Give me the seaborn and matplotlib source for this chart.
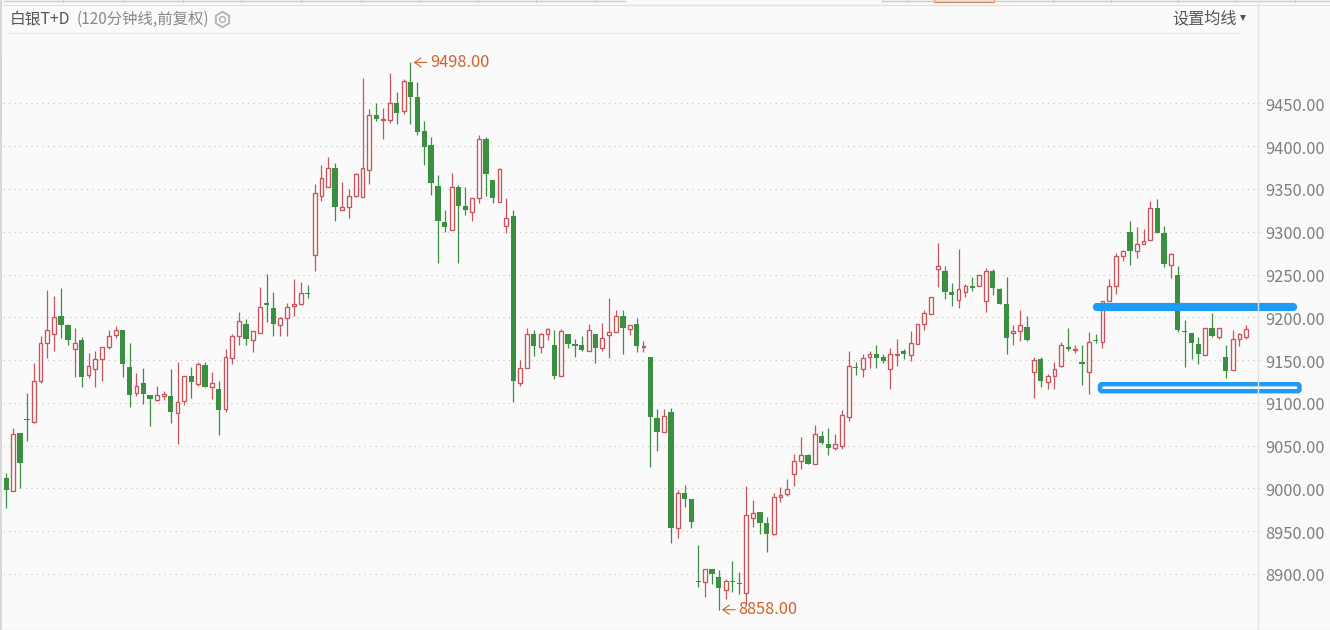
import numpy as np
import pandas as pd
import matplotlib
matplotlib.use('Agg')
import matplotlib.pyplot as plt
import seaborn as sns
from matplotlib.patches import FancyBboxPatch, Rectangle
from matplotlib.transforms import ScaledTranslation

# candle values, one list per field
highs = [9018, 9071, 9065, 9111, 9146, 9178, 9232, 9225, 9234, 9192, 9187, 9177, 9158, 9161, 9165, 9185, 9190, 9185, 9170, 9135,
         9141, 9109, 9120, 9114, 9140, 9148, 9131, 9142, 9148, 9148, 9136, 9126, 9163, 9180, 9206, 9198, 9184, 9235, 9251, 9229,
         9200, 9217, 9245, 9241, 9238, 9356, 9378, 9387, 9380, 9358, 9350, 9369, 9480, 9443, 9450, 9445, 9486, 9463, 9479, 9498,
         9475, 9429, 9411, 9366, 9325, 9369, 9355, 9352, 9340, 9413, 9411, 9360, 9375, 9339, 9325, 9150, 9188, 9185, 9182, 9187,
         9185, 9186, 9181, 9174, 9178, 9192, 9181, 9193, 9222, 9209, 9208, 9191, 9199, 9172, 9153, 9093, 9093, 9094, 8998, 9004,
         8988, 8934, 8906, 8906, 8905, 8894, 8915, 8902, 9003, 8986, 8972, 8967, 8995, 9002, 9011, 9040, 9060, 9040, 9074, 9067,
         9070, 9063, 9092, 9160, 9148, 9157, 9161, 9168, 9157, 9164, 9175, 9163, 9184, 9192, 9208, 9224, 9287, 9260, 9240, 9280,
         9239, 9247, 9250, 9258, 9256, 9234, 9247, 9191, 9208, 9201, 9153, 9154, 9134, 9148, 9171, 9188, 9167, 9167, 9183, 9181,
         9219, 9245, 9275, 9279, 9313, 9305, 9303, 9336, 9338, 9307, 9275, 9260, 9197, 9182, 9177, 9188, 9205, 9188, 9167, 9185,
         9182, 9191]
lows = [8977, 8997, 9000, 9055, 9076, 9123, 9152, 9161, 9176, 9167, 9130, 9118, 9129, 9118, 9125, 9163, 9176, 9130, 9095, 9108,
        9099, 9073, 9102, 9103, 9076, 9052, 9097, 9106, 9120, 9118, 9104, 9062, 9089, 9145, 9167, 9167, 9159, 9182, 9195, 9178,
        9178, 9178, 9201, 9214, 9223, 9254, 9336, 9352, 9312, 9326, 9316, 9341, 9341, 9356, 9430, 9408, 9427, 9426, 9438, 9426,
        9413, 9378, 9343, 9264, 9300, 9302, 9264, 9320, 9313, 9334, 9342, 9334, 9335, 9298, 9101, 9120, 9141, 9155, 9158, 9173,
        9128, 9131, 9164, 9153, 9160, 9161, 9147, 9161, 9152, 9183, 9157, 9179, 9159, 9159, 9025, 9044, 9066, 8936, 8942, 8978,
        8953, 8884, 8873, 8888, 8858, 8871, 8879, 8876, 8865, 8955, 8946, 8926, 8945, 8984, 8991, 9003, 9023, 9028, 9028, 9052,
        9039, 9045, 9046, 9079, 9132, 9130, 9141, 9141, 9146, 9116, 9143, 9151, 9149, 9169, 9185, 9204, 9235, 9221, 9213, 9211,
        9224, 9231, 9236, 9206, 9226, 9215, 9157, 9168, 9172, 9172, 9106, 9119, 9116, 9116, 9142, 9160, 9158, 9121, 9110, 9170,
        9164, 9219, 9227, 9266, 9261, 9269, 9286, 9290, 9298, 9259, 9246, 9183, 9142, 9151, 9145, 9156, 9177, 9175, 9129, 9138,
        9166, 9175]
body_tops = [9012, 9064, 9065, 9081, 9126, 9170, 9185, 9200, 9201, 9191, 9170, 9173, 9143, 9151, 9165, 9178, 9185, 9185, 9142, 9120,
             9123, 9109, 9109, 9110, 9108, 9101, 9131, 9131, 9145, 9144, 9123, 9116, 9154, 9178, 9196, 9192, 9184, 9212, 9217, 9211,
             9199, 9212, 9215, 9228, 9228, 9345, 9363, 9375, 9375, 9329, 9342, 9368, 9375, 9437, 9437, 9432, 9451, 9451, 9476, 9475,
             9457, 9418, 9401, 9354, 9311, 9352, 9352, 9330, 9340, 9408, 9408, 9360, 9373, 9316, 9318, 9141, 9180, 9180, 9180, 9186,
             9168, 9184, 9181, 9169, 9167, 9185, 9181, 9176, 9183, 9201, 9201, 9191, 9192, 9166, 9153, 9082, 9084, 9089, 8995, 8994,
             8987, 8892, 8906, 8906, 8896, 8892, 8892, 8889, 8969, 8971, 8972, 8960, 8990, 8992, 8999, 9032, 9039, 9039, 9063, 9061,
             9052, 9052, 9086, 9143, 9142, 9152, 9157, 9157, 9153, 9157, 9157, 9160, 9170, 9192, 9205, 9224, 9260, 9254, 9229, 9233,
             9237, 9237, 9249, 9254, 9254, 9233, 9215, 9184, 9191, 9189, 9150, 9151, 9131, 9139, 9167, 9165, 9163, 9148, 9171, 9173,
             9219, 9236, 9272, 9278, 9300, 9286, 9289, 9328, 9328, 9299, 9274, 9250, 9184, 9182, 9169, 9188, 9188, 9188, 9153, 9175,
             9181, 9186]
body_bottoms = [8998, 8997, 9029, 9080, 9078, 9126, 9170, 9180, 9191, 9173, 9163, 9130, 9132, 9140, 9151, 9165, 9179, 9145, 9109, 9111,
                9110, 9104, 9103, 9108, 9089, 9088, 9102, 9124, 9122, 9119, 9119, 9091, 9093, 9152, 9178, 9174, 9173, 9182, 9214, 9192,
                9191, 9199, 9213, 9215, 9227, 9273, 9342, 9352, 9329, 9326, 9329, 9342, 9341, 9372, 9432, 9431, 9431, 9439, 9441, 9457,
                9417, 9399, 9357, 9312, 9305, 9302, 9330, 9325, 9323, 9340, 9368, 9339, 9335, 9307, 9125, 9123, 9141, 9166, 9165, 9181,
                9131, 9131, 9169, 9166, 9162, 9161, 9164, 9164, 9179, 9183, 9187, 9186, 9166, 9165, 9083, 9066, 9066, 8953, 8954, 8987,
                8961, 8891, 8890, 8900, 8883, 8881, 8890, 8888, 8878, 8965, 8960, 8947, 8946, 8990, 8993, 9017, 9032, 9028, 9028, 9053,
                9047, 9047, 9050, 9083, 9141, 9140, 9153, 9152, 9149, 9139, 9156, 9157, 9156, 9169, 9192, 9204, 9256, 9230, 9226, 9220,
                9230, 9234, 9236, 9219, 9234, 9215, 9176, 9182, 9184, 9173, 9136, 9125, 9124, 9131, 9143, 9163, 9162, 9145, 9136, 9172,
                9171, 9219, 9236, 9272, 9277, 9277, 9286, 9290, 9299, 9262, 9261, 9185, 9183, 9170, 9157, 9156, 9178, 9177, 9137, 9138,
                9175, 9177]
# positions of the falling (filled green) candles, the rest are hollow red
green_idx = [0, 2, 3, 8, 9, 11, 17, 18, 20, 21, 24, 27, 29, 31, 35, 38, 39, 44, 48, 54, 57, 59, 60, 61, 62, 63, 64, 66, 67, 70, 71,
             74, 77, 80, 82, 83, 84, 86, 90, 92, 94, 95, 97, 99, 100, 101, 103, 104, 106, 107, 110, 111, 117, 119, 120, 124, 127, 128,
             131, 137, 138, 141, 144, 145, 146, 149, 151, 155, 157, 159, 164, 168, 169, 171, 172, 173, 174, 176, 178]

price_ticks = [9450, 9400, 9350, 9300, 9250, 9200, 9150, 9100, 9050, 9000, 8950, 8900]
high_label = '9498.00'
low_label = '8858.00'

PAGE = '#fafafa'
RED = '#c8555c'
GREEN = '#3a8f40'
ORANGE = '#d0622c'
BLUE = '#1e9bf8'
W, H = 1330, 630

sns.set_theme(style='white')
plt.rcParams['font.family'] = ['Noto Sans CJK SC', 'DejaVu Sans']

df = pd.DataFrame({'idx': np.arange(len(highs)), 'high': highs, 'low': lows,
                   'top': body_tops, 'bottom': body_bottoms})
df['kind'] = ['g' if i in green_idx else 'r' for i in df['idx']]
df['body'] = df['top'] - df['bottom']

fig = plt.figure(figsize=(W / 100, H / 100), dpi=100, facecolor=PAGE)
ax = fig.add_axes([3 / W, 0, 1254 / W, 1 - 33 / H], facecolor=PAGE)

# wicks first, bodies on top so the hollow candles hide them
for kind, color in [('r', RED), ('g', GREEN)]:
    sub = df[df['kind'] == kind]
    ax.vlines(sub['idx'], sub['low'], sub['high'], color=color, lw=0.9, zorder=2)

green = df[df['kind'] == 'g']
sns.barplot(data=green, x='idx', y='body', bottom=green['bottom'].values, native_scale=True, errorbar=None,
            width=0.78, color=GREEN, saturation=1, linewidth=0, zorder=3, ax=ax)
red = df[df['kind'] == 'r']
sns.barplot(data=red, x='idx', y='body', bottom=red['bottom'].values, native_scale=True, errorbar=None,
            width=0.56, color=PAGE, saturation=1, edgecolor=RED, linewidth=0.95, zorder=3, ax=ax)

ax.set_xlim(-0.48, 182.56)
ax.set_ylim(8834.3, 9532.4)
ax.set_xlabel('')
ax.set_ylabel('')
ax.set_xticks([])
ax.yaxis.tick_right()
ax.set_yticks(price_ticks)
ax.set_yticklabels([f'{p:.2f}' for p in price_ticks])
ax.tick_params(axis='y', length=2.2, width=0.7, color='#dcdcdc', pad=3.4, labelsize=11.9, labelcolor='#7f7f7f')
# tick labels sit a pixel under their grid line
for lab in ax.get_yticklabels():
    lab.set_transform(lab.get_transform() + ScaledTranslation(0, -1 / 100, fig.dpi_scale_trans))
ax.grid(axis='y', color='#c2c2c2', lw=0.8, linestyle=(0, (1, 4)))
ax.set_axisbelow(True)
for name, spine in ax.spines.items():
    spine.set_visible(False)

# max / min markers
for x_pos, price, label in [(59, 9498, high_label), (104, 8858, low_label)]:
    ax.annotate(label, xy=(x_pos + 0.45, price), xytext=(16.5, 0), textcoords='offset pixels',
                color=ORANGE, fontsize=11.8, va='center', ha='left', annotation_clip=False,
                arrowprops=dict(arrowstyle='->,head_length=0.4,head_width=0.28', color=ORANGE,
                                lw=0.8, shrinkA=0, shrinkB=0))

# window furniture and the hand drawn marks, in pixel coordinates
over = fig.add_axes([0, 0, 1, 1], facecolor='none')
over.set_xlim(0, W)
over.set_ylim(H, 0)
over.axis('off')

over.plot([4, 625], [1, 1], color='#cccccc', lw=1)
over.plot([882, W], [1, 1], color='#cccccc', lw=1)
over.plot([3, W], [4.5, 4.5], color='#e2e2e2', lw=1)
for sep in [63, 123, 183, 241, 301, 361, 420, 478, 536, 596, 882, 908, 1053, 1111, 1178, 1236, 1295]:
    over.plot([sep, sep], [0, 1.5], color='#cccccc', lw=0.8)
over.add_patch(Rectangle((934, -1), 60, 2.6, fc='none', ec='#d9824a', lw=0.9))
over.plot([1, 1], [0, 630], color='#d8d8d8', lw=1.4)
over.plot([9, 1239], [32.5, 32.5], color='#ececec', lw=1)
over.plot([1257.5, 1257.5], [4, 630], color='#e2e2e2', lw=1)
over.plot([3, W], [629.5, 629.5], color='#e2e2e2', lw=1)
over.add_patch(Rectangle((0, 55), 1.6, 81, color='#e0794a', lw=0))

over.text(10, 19.5, '白银T+D', color='#555555', fontsize=11.3, va='center', ha='left')
over.text(77, 19.5, '(120分钟线,前复权)', color='#888888', fontsize=11.1, va='center', ha='left')
over.plot([222], [19], marker='h', ms=11, mfc='#ffffff', mec='#b8b8b8', mew=1.5)
over.plot([222], [19], marker='o', ms=4.2, mfc='#ffffff', mec='#b8b8b8', mew=1.2)
over.text(1172.5, 18.5, '设置均线', color='#555555', fontsize=11.6, va='center', ha='left')
over.plot([1243], [17.5], marker='v', ms=4.2, color='#555555', mew=0)

over.add_patch(FancyBboxPatch((1095, 305), 200, 4, boxstyle='round,pad=0,rounding_size=2',
                              fc=BLUE, ec=BLUE, lw=3))
over.add_patch(FancyBboxPatch((1100, 384.2), 199.5, 7, boxstyle='round,pad=0,rounding_size=2',
                              fc='#ffffff', ec=BLUE, lw=3.2))

fig.savefig('out.png', dpi=100, facecolor=PAGE)
